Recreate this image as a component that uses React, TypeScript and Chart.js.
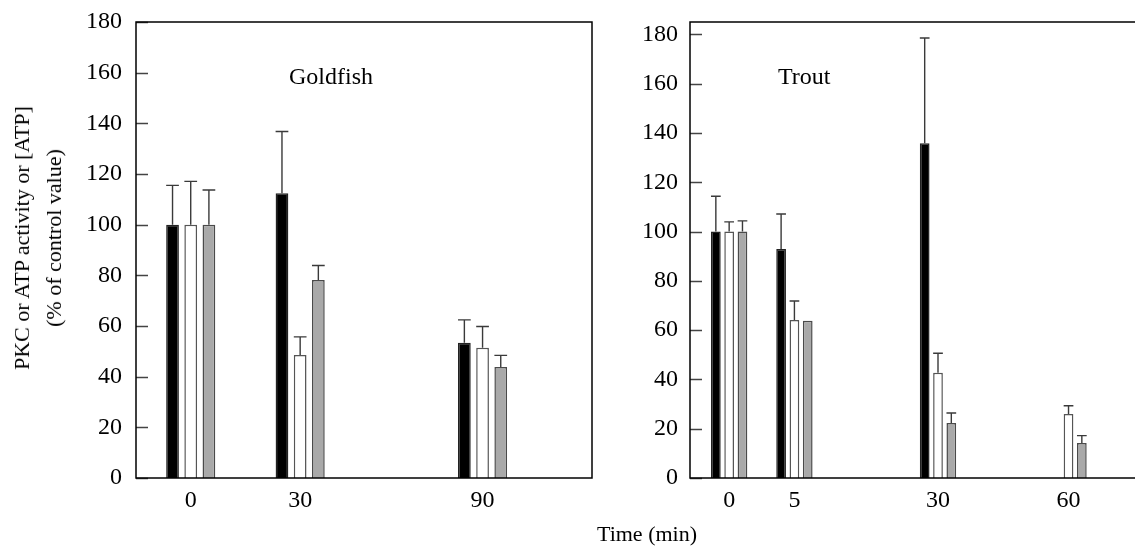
import React, { useEffect, useRef } from "react";
import { Chart, registerables } from "chart.js";

Chart.register(...registerables);

// ---------- data ----------
const seriesNames = ["PKC activity (A)", "PKC activity (B)", "[ATP]"];

const goldfishTimes = ["0", "30", "90"];
const goldfishSlots = [0, 3, 8];
const goldfishA = [100, 112.4, 53.4];
const goldfishAErr = [15.5, 24.4, 9.0];
const goldfishB = [100, 48.6, 51.4];
const goldfishBErr = [17.1, 7.1, 8.4];
const goldfishC = [100, 78.2, 43.8];
const goldfishCErr = [13.7, 5.7, 4.6];

const troutTimes = ["0", "5", "30", "60"];
const troutSlots = [0, 5, 16, 26];
const troutA = [100, 92.9, 135.8, null];
const troutAErr = [14.3, 14.2, 42.7, null];
const troutB = [100, 64.1, 42.7, 26.0];
const troutBErr = [3.9, 7.7, 7.9, 3.3];
const troutC = [100, 63.8, 22.3, 14.2];
const troutCErr = [4.3, 0, 4.1, 3.0];

const yTickValues = [0, 20, 40, 60, 80, 100, 120, 140, 160, 180];

// ---------- styling ----------
const FONT = '"Liberation Serif", "Times New Roman", serif';
const TICK_SIZE = 24;
const barFills = ["#000000", "#ffffff", "#a9a9a9"];
const barBorders = ["#222222", "#555555", "#4a4a4a"];

const decorPlugin = {
  id: "decor",
  afterDatasetsDraw(chart: any, _args: any, opts: any) {
    const { ctx, chartArea: a, scales } = chart;
    const y = scales.y;
    ctx.save();
    // error bars (upper only)
    chart.data.datasets.forEach((ds: any, i: number) => {
      const meta = chart.getDatasetMeta(i);
      meta.data.forEach((el: any, j: number) => {
        const pt = ds.data[j];
        const e = ds.errors[j];
        if (!pt || pt.y == null || !e) return;
        const top = y.getPixelForValue(pt.y + e);
        const w = el.width;
        ctx.strokeStyle = "#3a3a3a";
        ctx.lineWidth = 1.4;
        ctx.beginPath();
        ctx.moveTo(el.x, el.y);
        ctx.lineTo(el.x, top);
        ctx.moveTo(el.x - w / 2, top);
        ctx.lineTo(el.x + w / 2, top);
        ctx.stroke();
      });
    });
    // inside tick marks on the y axis
    ctx.strokeStyle = "#444444";
    ctx.lineWidth = 1.3;
    ctx.beginPath();
    yTickValues.forEach((v) => {
      const py = Math.round(y.getPixelForValue(v)) + 0.5;
      ctx.moveTo(a.left, py);
      ctx.lineTo(a.left + 12, py);
    });
    ctx.stroke();
    // frame
    ctx.strokeStyle = "#000000";
    ctx.lineWidth = 1.5;
    ctx.strokeRect(a.left, a.top, a.right - a.left, a.bottom - a.top);
    // panel name
    ctx.fillStyle = "#000000";
    ctx.font = `${TICK_SIZE}px ${FONT}`;
    ctx.textBaseline = "alphabetic";
    ctx.textAlign = "left";
    ctx.fillText(opts.text, a.left + opts.dx, opts.baseline);
    ctx.restore();
  },
};

function makeDatasets(slots: number[], values: (number | null)[][], errors: (number | null)[][]) {
  return values.map((vals, k) => ({
    label: seriesNames[k],
    data: vals.map((v, i) => ({ x: slots[i], y: v })),
    errors: errors[k],
    backgroundColor: barFills[k],
    borderColor: barBorders[k],
    borderWidth: 1.5,
    borderSkipped: "bottom",
  }));
}

function makeConfig(p: any) {
  return {
    type: "bar",
    data: { datasets: makeDatasets(p.slots, p.values, p.errors) },
    plugins: [decorPlugin],
    options: {
      animation: false,
      responsive: false,
      maintainAspectRatio: false,
      categoryPercentage: p.catPct,
      barPercentage: p.barPct,
      layout: { padding: { left: 0, right: p.padRight, top: 22, bottom: 0 } },
      plugins: {
        legend: { display: false },
        tooltip: { enabled: false },
        decor: { text: p.name, dx: p.nameDx, baseline: 84 },
      },
      scales: {
        x: {
          type: "linear",
          offset: false,
          min: p.xMin,
          max: p.xMax,
          grid: { display: false, drawTicks: false, offset: false },
          border: { display: false },
          afterBuildTicks: (s: any) => {
            s.ticks = p.slots.map((v: number) => ({ value: v }));
          },
          afterFit: (s: any) => {
            s.height = 68;
            s.paddingLeft = 0;
            s.paddingRight = 0;
          },
          ticks: {
            autoSkip: false,
            maxRotation: 0,
            padding: 8,
            color: "#000",
            font: { family: FONT, size: TICK_SIZE },
            callback: (_v: any, i: number) => p.times[i],
          },
        },
        y: {
          min: 0,
          max: p.yMax,
          grid: { display: false, drawTicks: false },
          border: { display: false },
          afterBuildTicks: (s: any) => {
            s.ticks = yTickValues.map((v) => ({ value: v }));
          },
          afterFit: (s: any) => {
            s.width = p.yWidth;
            s.paddingTop = 0;
            s.paddingBottom = 0;
          },
          ticks: {
            padding: p.yPad,
            color: "#000",
            font: { family: FONT, size: TICK_SIZE },
          },
        },
      },
    },
  };
}

function Panel(props: { cfg: any; left: number; width: number }) {
  const ref = useRef<HTMLCanvasElement>(null);
  useEffect(() => {
    if (!ref.current) return;
    const chart = new Chart(ref.current, makeConfig(props.cfg) as any);
    return () => chart.destroy();
  }, []);
  return (
    <canvas
      ref={ref}
      width={props.width}
      height={546}
      style={{ position: "absolute", left: props.left, top: 0, width: props.width, height: 546 }}
    />
  );
}

export default function App() {
  const goldfish = {
    name: "Goldfish",
    nameDx: 153,
    times: goldfishTimes,
    slots: goldfishSlots,
    values: [goldfishA, goldfishB, goldfishC],
    errors: [goldfishAErr, goldfishBErr, goldfishCErr],
    xMin: -1.5,
    xMax: 11,
    yMax: 180,
    yWidth: 136,
    yPad: 14,
    padRight: 8,
    catPct: 0.4986,
    barPct: 0.7,
  };
  const trout = {
    name: "Trout",
    nameDx: 88,
    times: troutTimes,
    slots: troutSlots,
    values: [troutA, troutB, troutC],
    errors: [troutAErr, troutBErr, troutCErr],
    xMin: -3,
    xMax: 35,
    yMax: 185,
    yWidth: 90,
    yPad: 12,
    padRight: 14,
    catPct: 0.612,
    barPct: 0.73,
  };
  return (
    <div
      style={{
        position: "absolute",
        left: 0,
        top: 0,
        width: 1135,
        height: 546,
        overflow: "hidden",
        background: "#fff",
      }}
    >
      <Panel cfg={goldfish} left={0} width={600} />
      <Panel cfg={trout} left={600} width={600} />
      <div
        style={{
          position: "absolute",
          left: 38,
          top: 238,
          transform: "translate(-50%, -50%) rotate(-90deg)",
          fontFamily: FONT,
          fontSize: 22,
          lineHeight: "32px",
          textAlign: "center",
          whiteSpace: "nowrap",
          color: "#000",
        }}
      >
        PKC or ATP activity or [ATP]
        <br />
        (% of control value)
      </div>
      <div
        style={{
          position: "absolute",
          left: 647,
          top: 534,
          transform: "translate(-50%, -50%)",
          fontFamily: FONT,
          fontSize: 22,
          lineHeight: "26px",
          whiteSpace: "nowrap",
          color: "#000",
        }}
      >
        Time (min)
      </div>
    </div>
  );
}
